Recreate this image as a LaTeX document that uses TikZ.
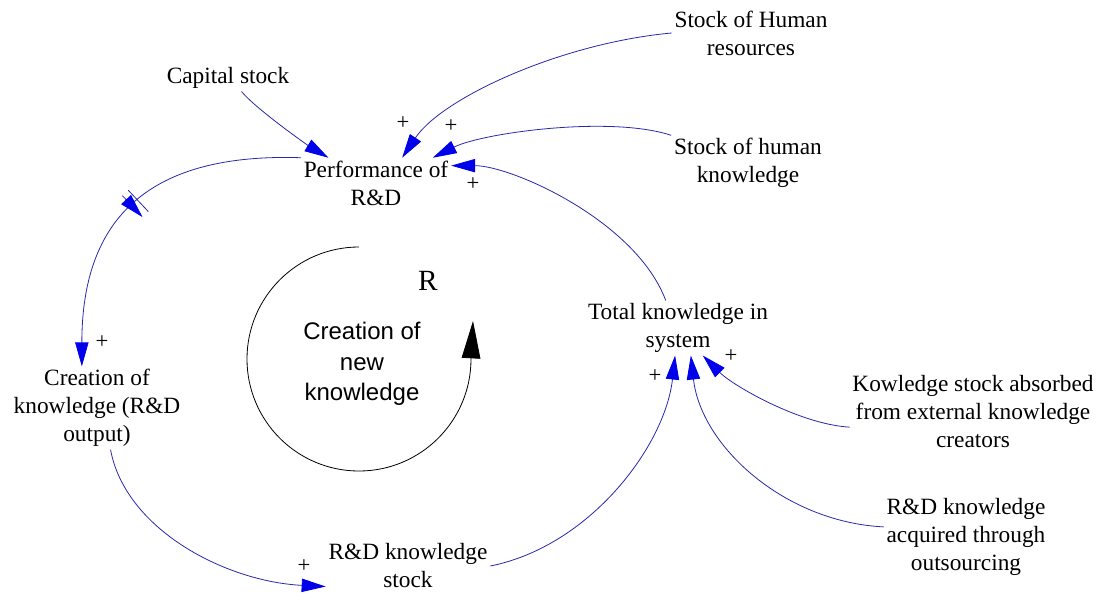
\documentclass[tikz,border=0pt]{standalone}
\usepackage{fontspec}
\setmainfont{Liberation Serif}
\newfontfamily\loopsans{Liberation Sans}
\usetikzlibrary{arrows.meta,decorations.markings}
\definecolor{linkline}{RGB}{40,40,170}
\definecolor{tipblue}{RGB}{0,0,235}

\begin{document}
\begin{tikzpicture}[x=0.75pt,y=0.75pt,yscale=-1,xscale=1,
  lbl/.style={align=center,inner sep=2pt,font=\fontsize{17.5}{21}\selectfont},
  sgn/.style={inner sep=0pt,font=\fontsize{17}{20}\selectfont},
  link/.style={draw=linkline,line width=0.6pt,-{Triangle[length=18pt,width=10pt,color=tipblue]}},
  loopline/.style={line width=0.6pt,-{Triangle[length=28pt,width=14pt]}},
  delay/.style={postaction={decorate},decoration={markings,mark=at position 0.5 with {\draw[linkline,line width=0.6pt] (-3pt,-11pt) -- (-3pt,11pt) (3pt,-11pt) -- (3pt,11pt);}}}]
\useasboundingbox (0,0) rectangle (1108,593);

% Text Node
\draw (228,78) node (cap) [lbl] {Capital stock};
% Text Node
\draw (376,183) node (perf) [lbl] {Performance of\\R\&D};
% Text Node
\draw (751,33) node (shr) [lbl] {Stock of Human\\resources};
% Text Node
\draw (748,163) node (shk) [lbl] {Stock of human\\knowledge};
% Text Node
\draw (97,408) node (ckn) [lbl] {Creation of\\knowledge (R\&D\\output)};
% Text Node
\draw (408,566) node (stk) [lbl] {R\&D knowledge\\stock};
% Text Node
\draw (678,328) node (tot) [lbl] {Total knowledge in\\system};
% Text Node
\draw (973,412) node (kow) [lbl] {Kowledge stock absorbed\\from external knowledge\\creators};
% Text Node
\draw (966,537) node (acq) [lbl] {R\&D knowledge\\acquired through\\outsourcing};
% Text Node
\draw (362,364) node (cnk) [align=center,font=\loopsans\fontsize{18}{23}\selectfont] {Creation of\\new\\knowledge};
% Text Node
\draw (428,281) node (rloop) [font=\fontsize{22}{26}\selectfont] {R};

%Curve Lines
\draw [link] (cap.-45) .. controls +(15,18) and +(-20,-12) .. (perf.152) ;
\draw [link] (shr.west) .. controls +(-110,10) and +(40,-60) .. (perf.44) ;
\draw [link] (shk.north west) .. controls +(-60,-20) and +(50,-25) .. (perf.24) ;
\draw [link] (tot.114) .. controls +(-30,-80) and +(60,0) .. (perf.13) ;
\draw [link,delay] (perf.north west) .. controls +(-150,-5) and +(0,-150) .. (ckn.110) ;
\draw [link] (ckn.-72) .. controls +(15,80) and +(-100,-5) .. (stk.194) ;
\draw [link] (stk.east) .. controls +(100,-20) and +(-10,90) .. (tot.-96) ;
\draw [link] (acq.173) .. controls +(-100,-5) and +(10,90) .. (tot.-65) ;
\draw [link] (kow.187) .. controls +(-50,-3) and +(30,30) .. (tot.-48) ;

%Shape: Loop
\coordinate (lc) at (359,359);
\draw [loopline] (lc) ++(0,-112) arc [start angle=-90, end angle=-360, radius=112] -- ++(2,-38) ;

% Text Node
\draw (403,123) node (p1) [sgn] {+};
\draw (451,126) node (p2) [sgn] {+};
\draw (473,184) node (p3) [sgn] {+};
\draw (102,342) node (p4) [sgn] {+};
\draw (304,566) node (p5) [sgn] {+};
\draw (655,376) node (p6) [sgn] {+};
\draw (731,356) node (p7) [sgn] {+};
\end{tikzpicture}
\end{document}
